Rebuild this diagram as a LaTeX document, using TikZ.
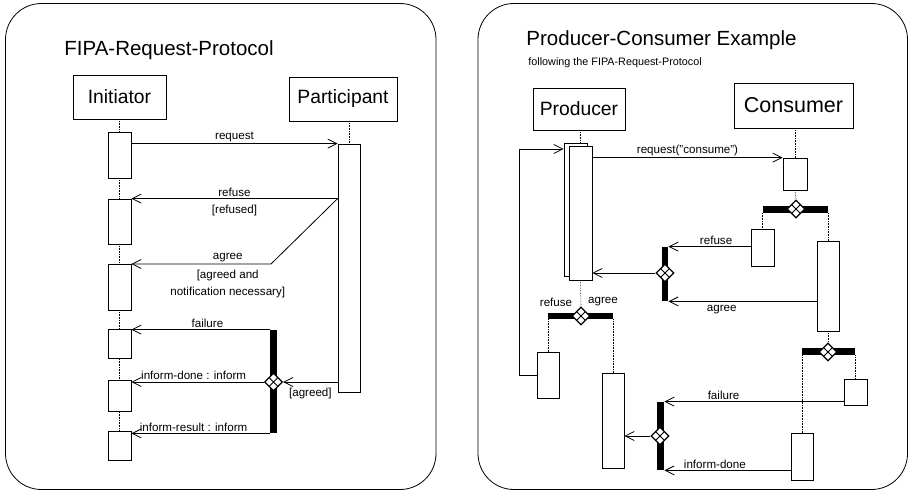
\documentclass[tikz,border=0pt]{standalone}
\usepackage{fontspec}
\setmainfont{Liberation Sans}
\usetikzlibrary{shapes.geometric}
\usetikzlibrary{arrows.meta}
\usetikzlibrary{calc}

\begin{document}
\begin{tikzpicture}[x=1pt, y=-1pt, line width=0.8pt,
    actor/.style={draw, fill=white, inner sep=0pt, font=\fontsize{19.3}{22}\selectfont},
    act/.style={draw, fill=white, inner sep=0pt, minimum width=23pt},
    bar/.style={fill=black, inner sep=0pt},
    choice/.style={diamond, draw, fill=white, line width=1.3pt, inner sep=0pt, minimum size=18pt,
        path picture={\draw[line width=1pt] (path picture bounding box.north west) -- (path picture bounding box.south east)
            (path picture bounding box.north east) -- (path picture bounding box.south west);}},
    msg/.style={-{Straight Barb[length=9pt,width=9pt]}},
    life/.style={densely dotted, line width=0.6pt},
    lbl/.style={font=\fontsize{11.6}{17}\selectfont, inner sep=1.5pt},
    lblb/.style={lbl, inner sep=1.5pt, yshift=-4.5pt},
    title/.style={font=\fontsize{20.5}{24}\selectfont}]
        \useasboundingbox (0,0) rectangle (909,492);
        \draw[rounded corners=36pt] (5.5,3.5) rectangle (436,489.5);
        \draw[rounded corners=36pt] (478,3.5) rectangle (907.5,489.5);

        % FIPA-Request-Protocol
        \node[title] (ltitle) at (169,50) {FIPA-Request-Protocol};
        \node[actor, minimum width=93pt, minimum height=44pt] (init) at (119.5,97) {Initiator};
        \node[actor, minimum width=108pt, minimum height=44pt] (part) at (343,99) {Participant};

        \node[act, minimum height=46pt] (ia1) at (119.5,155) {};
        \node[act, minimum height=45pt] (ia2) at (119.5,221.5) {};
        \node[act, minimum height=46pt] (ia3) at (119.5,287) {};
        \node[act, minimum height=29pt] (ia4) at (119.5,344) {};
        \node[act, minimum height=31pt] (ia5) at (119.5,396) {};
        \node[act, minimum height=29pt] (ia6) at (119.5,446) {};
        \node[act, minimum width=22pt, minimum height=248pt] (pa) at (349,268) {};

        \foreach \a/\b in {init/ia1, ia1/ia2, ia2/ia3, ia3/ia4, ia4/ia5, ia5/ia6}
            \draw[life] (\a) -- (\b);
        \draw[life] (part.south -| pa.north) -- (pa.north);

        \draw[msg] (ia1.east |- pa.north) -- node[lbl, above] {request} (pa.north west);
        \draw[msg] (pa.west |- ia2.north) -- node[lbl, above] {refuse} node[lblb, below] {[refused]} (ia2.north east);
        \coordinate (abend) at (271,264);
        \draw[msg] (pa.west |- ia2.north) -- (abend) -- node[lbl, pos=.31, above] {agree}
            node[lblb, pos=.31, below, align=center] {[agreed and\\notification necessary]} (abend -| ia3.east);

        \node[bar, minimum width=7pt, minimum height=103pt] (lbar) at (273.5,381.5) {};
        \node[choice] (lch) at (273.5,382) {};
        \draw[msg] (lbar.north west) -- node[lbl, pos=.45, above] {failure} (lbar.north west -| ia4.east);
        \draw[msg] (lch.west) -- node[lbl, pos=.53, above] {inform-done : inform} (lch.west -| ia5.east);
        \draw[msg] (lbar.south west) -- node[lbl, pos=.55, above] {inform-result : inform} (lbar.south west -| ia6.east);
        \draw[msg] (pa.west |- lch.east) -- node[lblb, below] {[agreed]} (lch.east);

        % Producer-Consumer Example
        \node[title] (rtitle) at (661.5,40) {Producer-Consumer Example};
        \node[font=\fontsize{10.8}{13}\selectfont, anchor=west, inner sep=0pt] (rsub) at (528,63) {following the FIPA-Request-Protocol};
        \node[actor, minimum width=92pt, minimum height=42pt] (prod) at (579,109) {Producer};
        \node[actor, minimum width=119pt, minimum height=45pt, font=\fontsize{21.5}{24}\selectfont] (cons) at (793.5,105.5) {Consumer};

        \node[act, minimum height=133pt] (pb) at (575.5,209.5) {};
        \node[act, minimum height=134pt] (pf) at (580.5,213) {};
        \draw[life] (prod.south -| pf.north) -- (pb.north -| pf.north);

        \node[act, minimum width=24pt, minimum height=32pt] (ca1) at (795,174) {};
        \draw[life] (cons.south -| ca1.north) -- (ca1.north);
        \draw[msg] (pf.east |- ca1.north) -- node[lbl, above] {request("consume")} (ca1.north west);

        \node[bar, minimum width=65pt, minimum height=7pt] (cbar1) at (795.5,209) {};
        \node[choice] (cch1) at (796,209) {};
        \draw[life] (ca1.south) -- (cch1.north);
        \node[act, minimum height=37pt] (ca2) at (762.5,247.5) {};
        \node[act, minimum width=22pt, minimum height=90pt] (ca3) at (828,286) {};
        \draw[life] (ca2.north |- cbar1.south) -- (ca2.north);
        \draw[life] (ca3.north |- cbar1.south) -- (ca3.north);

        \node[bar, minimum width=6pt, minimum height=54pt] (pbar1) at (665,274) {};
        \node[choice] (pch1) at (665,273) {};
        \draw[msg] (ca2.west |- pbar1.north) -- node[lbl, pos=.42, above] {refuse} (pbar1.north east);
        \draw[msg] (ca3.west |- pbar1.south) -- node[lbl, pos=.64, below, yshift=-2pt] {agree} (pbar1.south east);
        \draw[msg] (pch1.west) -- (pch1.west -| pf.east);

        \node[bar, minimum width=65pt, minimum height=6pt] (pbar2) at (580.5,316) {};
        \node[choice] (pch2) at (581,316) {};
        \draw[life] (pf.south) -- (pch2.north);
        \node[lbl] (lref) at (556,302) {refuse};
        \node[lbl] (lagr) at (603,302) {agree};
        \node[act, minimum width=22pt, minimum height=46pt] (pa2) at (548,375) {};
        \node[act, minimum width=22pt, minimum height=95pt] (pa3) at (613,420.5) {};
        \draw[life] (pa2.north |- pbar2.south) -- (pa2.north);
        \draw[life] (pa3.north |- pbar2.south) -- (pa3.north);
        \coordinate (loop) at (519,149);
        \draw[msg] (pa2.west) -| (loop) -- (loop -| pb.west);

        \node[bar, minimum width=53pt, minimum height=7pt] (cbar2) at (828.5,351.5) {};
        \node[choice] (cch2) at (828,352) {};
        \draw[life] (ca3.south) -- (cch2.north);
        \node[act, minimum width=22pt, minimum height=47pt] (ca4) at (802,456.5) {};
        \node[act, minimum height=26pt] (ca5) at (855.5,392) {};
        \draw[life] (ca4.north |- cbar2.south) -- (ca4.north);
        \draw[life] (ca5.north |- cbar2.south) -- (ca5.north);

        \node[bar, minimum width=7pt, minimum height=68pt] (pbar3) at (660.5,436) {};
        \node[choice] (pch3) at (660,436) {};
        \draw[msg] (ca5.west |- pbar3.north) -- node[lbl, pos=.67, above] {failure} (pbar3.north east);
        \draw[msg] (ca4.west |- pbar3.south) -- node[lbl, pos=.6, above] {inform-done} (pbar3.south east);
        \draw[msg] (pch3.west) -- (pch3.west -| pa3.east);
\end{tikzpicture}
\end{document}
